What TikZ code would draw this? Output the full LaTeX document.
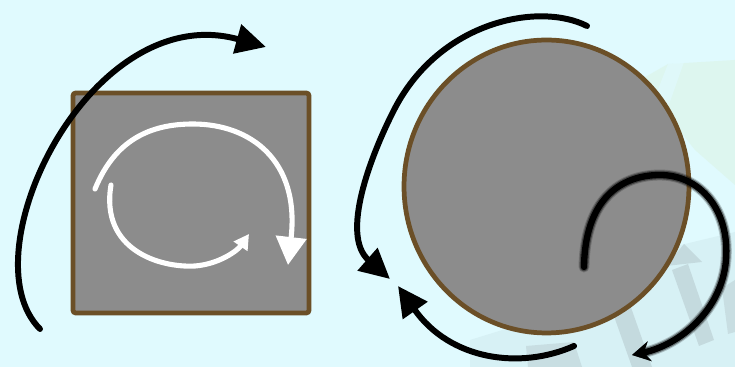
\documentclass[tikz,border=0pt]{standalone}
\usepackage{tikz}
\usetikzlibrary{shapes.geometric,arrows.meta,positioning,calc}

\definecolor{skybg}{HTML}{E0FAFE}
\definecolor{bodygray}{HTML}{8C8C8C}
\definecolor{rimbrown}{HTML}{6B4F27}
\definecolor{hazeblue}{HTML}{D7F1F5}
\definecolor{hazegray}{HTML}{B6C8CC}
\definecolor{hazegreen}{HTML}{DDF6EF}

\begin{document}
\begin{tikzpicture}[
  x=0.02cm, y=-0.02cm,
  bodybox/.style  = {rectangle, rounded corners=1.5pt,
                     draw=rimbrown, fill=bodygray, line width=2.7pt,
                     inner sep=0pt},
  bodydisc/.style = {ellipse, draw=rimbrown, fill=bodygray,
                     line width=2.7pt, inner sep=0pt},
  spin/.style   = {-{Triangle[length=0.6cm,width=0.58cm]},
                   line width=3.4pt, black, line cap=round},
  spinw/.style  = {-{Triangle[length=0.56cm,width=0.6cm]},
                   line width=2.9pt, white, line cap=round},
  spinws/.style = {-{Triangle[length=0.3cm,width=0.32cm]},
                   line width=2.9pt, white, line cap=round},
  spinblur/.style = {-{Stealth[length=0.36cm,width=0.4cm,inset=0.12cm]},
                     black, line cap=round},
  haze/.style   = {draw=none},
]

\useasboundingbox (0,0) rectangle (735,367);
\fill[skybg] (0,0) rectangle (735,367);

%%═══════════════════════════════════════════════════════════
%% faded backdrop, lower right
%%═══════════════════════════════════════════════════════════

\fill[haze, hazegreen] (640,80) -- (668,64) -- (735,60) -- (735,185) -- (695,150) -- cycle;
\fill[haze, skybg, opacity=0.7] (668,64) -- (684,62) -- (660,130) -- (650,110) -- cycle;
\fill[haze, hazeblue] (470,340) -- (600,300) -- (660,250) -- (735,232)
  -- (735,367) -- (470,367) -- cycle;
\fill[haze, hazegray, opacity=0.55] (604,288) -- (622,282) -- (652,367) -- (632,367) -- cycle;
\fill[haze, hazegray, opacity=0.55] (672,270) -- (688,264) -- (714,340) -- (699,346) -- cycle;
\fill[haze, hazegray, opacity=0.55] (666,266) -- (684,244) -- (702,262) -- cycle;
\fill[haze, hazegray, opacity=0.45] (526,346) -- (574,342) -- (582,367) -- (528,367) -- cycle;
\fill[haze, hazegray, opacity=0.45] (722,288) -- (735,280) -- (735,332) -- (728,334) -- cycle;

%%═══════════════════════════════════════════════════════════
%% BODIES
%%═══════════════════════════════════════════════════════════

\node[bodybox, minimum width=4.72cm, minimum height=4.4cm] (block) at (191,203) {};
\node[bodydisc, minimum width=5.7cm, minimum height=5.86cm] (wheel) at (546.5,186.5) {};

%%═══════════════════════════════════════════════════════════
%% square: outer sweep and inner white turns
%%═══════════════════════════════════════════════════════════

\coordinate (sweepA) at (40,329);
\coordinate (sweepB) at (266,47);
\draw[spin] (sweepA) .. controls (-34,255) and (90,-2) .. (sweepB);

\coordinate (turnA) at (95,189);
\coordinate (turnM) at (193,124);
\coordinate (turnB) at (288,265);
\draw[spinw] (turnA) .. controls (115,140) and (150,124) .. (turnM)
                     .. controls (250,124) and (300,160) .. (turnB);

\coordinate (loopA) at (111,185);
\coordinate (loopM) at (195,266);
\coordinate (loopB) at (249,234);
\draw[spinws] (loopA) .. controls (100,250) and (160,268) .. (loopM)
                      .. controls (220,264) and (238,250) .. (loopB);

%%═══════════════════════════════════════════════════════════
%% disc: upper and lower sweeps, smudged inner turn
%%═══════════════════════════════════════════════════════════

\coordinate (arcA) at (587,26);
\coordinate (arcM) at (394,110);
\coordinate (arcB) at (390,279);
\draw[spin] (arcA) .. controls (540,2) and (440,20) .. (arcM)
                   .. controls (371,155) and (340,235) .. (arcB);

\coordinate (lowA) at (574,346);
\coordinate (lowB) at (398,286);
\draw[spin] (lowA) .. controls (520,370) and (450,360) .. (lowB);

\coordinate (smA) at (584,267);
\coordinate (smM) at (660,175);
\coordinate (smN) at (726,260);
\coordinate (smB) at (632,355);
\foreach \w/\o in {6.2/0.2, 5/0.4, 3.6/1} {
  \draw[spinblur, line width=\w pt, opacity=\o]
    (smA) .. controls (585,200) and (620,175) .. (smM)
          .. controls (700,175) and (730,210) .. (smN)
          .. controls (722,310) and (680,345) .. (smB);
}

\end{tikzpicture}
\end{document}
